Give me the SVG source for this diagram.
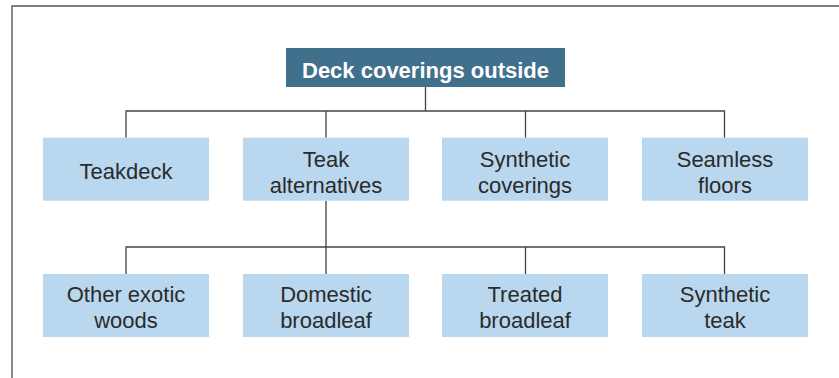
<svg xmlns="http://www.w3.org/2000/svg" width="839" height="378" viewBox="0 0 839 378">
<style>
.frame{fill:none;stroke:#555;stroke-width:1.4}
.con{fill:none;stroke:#444;stroke-width:1.3}
.box{fill:#b9d7ee}
.title{fill:#41708c}
.t{font-family:"Liberation Sans",Arial,sans-serif;font-size:22px;fill:#2b2b2b;text-anchor:middle}
.tt{font-family:"Liberation Sans",Arial,sans-serif;font-size:22px;font-weight:bold;fill:#fff;text-anchor:middle}
</style>
<rect width="839" height="378" fill="#fff"/>
<path class="frame" d="M12,378 V6 H839"/>
<g id="connectors">
<path class="con" d="M425.5,87 V111 M126,137.7 V111 H724.5 V137.7 M326,111 V137.7 M525.5,111 V137.7"/>
<path class="con" d="M326,200.7 V274 M126,274 V247 H724.5 V274 M525.5,247 V274"/>
</g>
<g id="root"><rect class="title" x="286" y="48" width="279" height="39"/><text class="tt" x="425.5" y="77.5">Deck coverings outside</text></g>
<g id="teakdeck"><rect class="box" x="43" y="137.7" width="166" height="63"/><text class="t" x="126" y="178.5">Teakdeck</text></g>
<g id="teak-alternatives"><rect class="box" x="243" y="137.7" width="166" height="63"/><text class="t" x="326" y="166.5">Teak</text><text class="t" x="326" y="192.8">alternatives</text></g>
<g id="synthetic-coverings"><rect class="box" x="442" y="137.7" width="166" height="63"/><text class="t" x="525" y="166.5">Synthetic</text><text class="t" x="525" y="192.8">coverings</text></g>
<g id="seamless-floors"><rect class="box" x="642" y="137.7" width="166" height="63"/><text class="t" x="725" y="166.5">Seamless</text><text class="t" x="725" y="192.8">floors</text></g>
<g id="other-exotic-woods"><rect class="box" x="43" y="274" width="166" height="63"/><text class="t" x="126" y="302">Other exotic</text><text class="t" x="126" y="328">woods</text></g>
<g id="domestic-broadleaf"><rect class="box" x="243" y="274" width="166" height="63"/><text class="t" x="326" y="302">Domestic</text><text class="t" x="326" y="328">broadleaf</text></g>
<g id="treated-broadleaf"><rect class="box" x="442" y="274" width="166" height="63"/><text class="t" x="525" y="302">Treated</text><text class="t" x="525" y="328">broadleaf</text></g>
<g id="synthetic-teak"><rect class="box" x="642" y="274" width="166" height="63"/><text class="t" x="725" y="302">Synthetic</text><text class="t" x="725" y="328">teak</text></g>
</svg>
